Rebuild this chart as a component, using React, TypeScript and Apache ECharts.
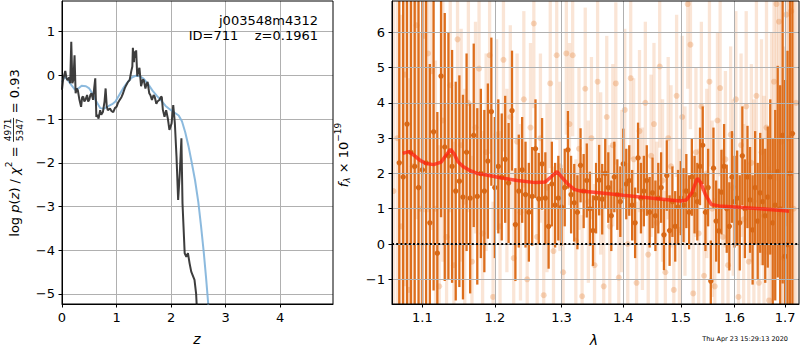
import React, { useEffect, useRef } from 'react';
import * as echarts from 'echarts';

// ---------- Left panel: p(z) ----------
const leftXTicks = [0, 1, 2, 3, 4];
const leftYTicks = [-5, -4, -3, -2, -1, 0, 1];

const blueZ = [0, 0.05, 0.1, 0.17, 0.24, 0.3, 0.36, 0.44, 0.5, 0.56, 0.63, 0.7, 0.77, 0.84, 0.92, 0.98, 1.05, 1.12, 1.2, 1.28, 1.35, 1.43, 1.5, 1.58, 1.66, 1.74, 1.82, 1.9, 1.98, 2.06, 2.14, 2.2, 2.26, 2.32, 2.38, 2.44, 2.5, 2.55, 2.6, 2.64, 2.68, 2.7];
const blueP = [-0.15, -0.03, -0.1, -0.22, -0.33, -0.3, -0.24, -0.25, -0.3, -0.42, -0.6, -0.75, -0.76, -0.71, -0.66, -0.6, -0.45, -0.3, -0.16, -0.05, -0.01, -0.02, -0.08, -0.2, -0.35, -0.47, -0.58, -0.7, -0.78, -0.85, -0.92, -1.05, -1.3, -1.62, -2.0, -2.4, -2.9, -3.45, -4.05, -4.6, -5.2, -5.5];

const blackZ = [0, 0.02, 0.04, 0.06, 0.08, 0.1, 0.13, 0.15, 0.17, 0.19, 0.21, 0.23, 0.25, 0.27, 0.29, 0.32, 0.35, 0.37, 0.39, 0.41, 0.43, 0.46, 0.48, 0.5, 0.52, 0.54, 0.57, 0.59, 0.61, 0.63, 0.65, 0.67, 0.7, 0.72, 0.75, 0.78, 0.8, 0.82, 0.84, 0.88, 0.91, 0.94, 0.97, 1.0, 1.03, 1.06, 1.09, 1.12, 1.15, 1.18, 1.21, 1.24, 1.27, 1.29, 1.3, 1.32, 1.33, 1.35, 1.36, 1.38, 1.4, 1.42, 1.44, 1.45, 1.48, 1.5, 1.53, 1.55, 1.57, 1.6, 1.62, 1.65, 1.68, 1.7, 1.73, 1.75, 1.79, 1.81, 1.83, 1.85, 1.88, 1.91, 1.94, 1.97, 2.01, 2.04, 2.07, 2.1, 2.13, 2.16, 2.19, 2.21, 2.25, 2.28, 2.31, 2.34, 2.37, 2.43, 2.46, 2.48];
const blackP = [-0.33, -0.1, 0.0, 0.1, -0.05, -0.11, -0.05, -0.18, 0.77, -0.18, -0.1, 0.46, -0.41, -0.3, -0.34, -0.56, -0.72, -0.5, -0.49, -0.6, -0.56, -0.45, -0.6, -0.56, -0.45, -0.41, -0.56, -0.3, -0.07, -0.95, -0.9, -0.99, -0.8, -0.9, -0.84, -0.6, -0.3, -0.7, -0.8, -0.76, -0.82, -0.84, -0.75, -0.72, -0.62, -0.56, -0.5, -0.41, -0.3, -0.22, -0.15, -0.11, 0.09, 0.2, 0.63, 0.3, 0.55, 0.4, 0.57, -0.02, 0.1, 0.17, -0.1, -0.25, -0.1, -0.11, -0.3, -0.2, -0.15, -0.41, -0.45, -0.56, -0.45, -0.49, -0.65, -0.6, -0.56, -0.5, -0.49, -0.79, -0.95, -0.8, -0.98, -1.25, -1.1, -0.68, -1.1, -1.86, -2.85, -2.24, -1.44, -2.93, -4.07, -4.15, -4.07, -4.3, -4.49, -4.68, -5.0, -5.5];

// ---------- Right panel: spectrum ----------
const rightXTicks = [1.1, 1.2, 1.3, 1.4, 1.5, 1.6, 1.7];
const rightYTicks = [-1, 0, 1, 2, 3, 4, 5, 6];

const darkLam = [
  1.070, 1.075, 1.080, 1.085, 1.090, 1.095, 1.100,
  1.105, 1.110, 1.115, 1.120, 1.125, 1.130,
  1.135, 1.140, 1.145, 1.150, 1.155, 1.160,
  1.165, 1.170, 1.175, 1.180, 1.185, 1.190, 1.195, 1.200,
  1.205, 1.210, 1.215, 1.220, 1.225, 1.230, 1.235, 1.240, 1.245, 1.250,
  1.255, 1.260, 1.265, 1.270, 1.275, 1.280, 1.285, 1.290, 1.295, 1.300,
  1.305, 1.310, 1.315, 1.320, 1.325, 1.330, 1.335, 1.340, 1.345, 1.350,
  1.355, 1.360, 1.365, 1.370, 1.375, 1.380, 1.385, 1.390, 1.395, 1.400,
  1.405, 1.410, 1.415, 1.420, 1.425, 1.430, 1.435, 1.440, 1.445, 1.450,
  1.455, 1.460, 1.465, 1.470, 1.475, 1.480, 1.485, 1.490, 1.495, 1.500,
  1.505, 1.510, 1.515, 1.520, 1.525, 1.530, 1.535, 1.540, 1.545, 1.550,
  1.555, 1.560, 1.565, 1.570, 1.575, 1.580, 1.585, 1.590, 1.595, 1.600,
  1.605, 1.610, 1.615, 1.620, 1.625, 1.630, 1.635, 1.640, 1.645, 1.650,
  1.655, 1.660, 1.665, 1.670, 1.675, 1.680, 1.685, 1.690, 1.695, 1.700,
  1.705, 1.710, 1.715,
];
const darkFlux = [
  2.3, 1.9, 3.4, 2.6, 2.2, 1.6, 2.1,
  2.3, 0.6, 3.18, -0.26, 4.76, 2.75,
  2.5, 2.2, 1.5, 1.78, 1.33, 2.6,
  1.3, 3.08, 1.35, 2.0, 1.5, 2.35, 3.75, 1.6,
  2.2, 1.9, 2.4, 1.73, 3.78, 0.55, 1.5, 2.1, 1.4, 0.9,
  1.35, 2.7, 1.28, 2.27, 1.3, 0.5, 1.7, 1.1, 1.3, 1.05,
  1.6, 2.67, 1.4, 1.17, 0.9, 2.23, 1.5, 1.8, 1.0, 0.38,
  1.3, 1.81, 1.27, 2.0, 1.6, 0.8, 1.9, 1.4, 1.2, 2.27,
  1.7, 1.8, 1.1, 0.6, 2.44, 1.3, 1.5, 1.8, 0.9, 1.45,
  0.8, 1.3, 1.6, 0.26, 1.94, 0.38, 1.2, 0.5, 1.05, 1.3,
  1.1, 1.5, 0.9, 1.9, 1.4, 1.2, 2.2, 2.8, 0.9, 1.6,
  -1.05, 2.15, 0.65, 0.37, 1.47, 2.2, 1.0, 0.5, 1.9, 1.2,
  1.3, 0.6, 2.5, 1.0, 1.9, 1.25, 0.4, 1.6, 0.65, 1.45,
  1.2, 0.8, 1.33, 1.9, 0.6, 1.1, 2.05, 1.0, 3.08, -0.35,
  -0.02, 2.0, 3.13,
];
const darkErr = [
  6, 6, 6, 6, 5.5, 5.5, 5,
  5, 4.5, 4.5, 4, 4, 3.8,
  3.5, 3.3, 3.1, 3.0, 2.9, 2.8,
  2.7, 2.6, 2.5, 2.4, 2.3, 2.2, 2.1, 2.0,
  1.9, 1.8, 1.8, 1.7, 1.7, 1.6, 1.6, 1.5, 1.5, 1.4,
  1.4, 1.4, 1.3, 1.3, 1.3, 1.2, 1.2, 1.2, 1.2, 1.1,
  1.1, 1.1, 1.1, 1.1, 1.05, 1.05, 1.05, 1.05, 1.05, 1.0,
  1.0, 1.0, 1.0, 1.0, 1.0, 1.0, 1.0, 1.0, 1.0, 1.0,
  1.0, 1.0, 1.0, 1.0, 1.0, 1.0, 1.0, 1.0, 1.0, 1.0,
  1.0, 1.0, 1.0, 1.0, 1.0, 1.0, 1.0, 1.0, 1.05, 1.05,
  1.05, 1.05, 1.05, 1.1, 1.1, 1.1, 1.1, 1.1, 1.1, 1.1,
  1.15, 1.15, 1.15, 1.2, 1.2, 1.2, 1.25, 1.25, 1.3, 1.3,
  1.35, 1.35, 1.4, 1.4, 1.45, 1.5, 1.55, 1.6, 1.65, 1.7,
  1.8, 1.9, 2.0, 2.2, 2.4, 2.7, 3.0, 3.5, 4.2, 5.0,
  5.5, 6, 6,
];

const lightLam = [
  1.0625, 1.0675, 1.0725, 1.0775, 1.0825, 1.0875, 1.0925, 1.0975, 1.1025,
  1.1075, 1.1125, 1.1175, 1.1225, 1.1275, 1.1325, 1.1375, 1.1425, 1.1475, 1.1525,
  1.1575, 1.1625, 1.1675, 1.1725, 1.1775, 1.1825, 1.1875, 1.1925, 1.1975, 1.2025,
  1.2075, 1.2125, 1.2175, 1.2225, 1.2275, 1.2325, 1.2375, 1.2425, 1.2475, 1.2525,
  1.2575, 1.2625, 1.2675, 1.2725, 1.2775, 1.2825, 1.2875, 1.2925, 1.2975, 1.3025,
  1.3075, 1.3125, 1.3175, 1.3225, 1.3275, 1.3325, 1.3375, 1.3425, 1.3475, 1.3525,
  1.3575, 1.3625, 1.3675, 1.3725, 1.3775, 1.3825, 1.3875, 1.3925, 1.3975, 1.4025,
  1.4075, 1.4125, 1.4175, 1.4225, 1.4275, 1.4325, 1.4375, 1.4425, 1.4475, 1.4525,
  1.4575, 1.4625, 1.4675, 1.4725, 1.4775, 1.4825, 1.4875, 1.4925, 1.4975, 1.5025,
  1.5075, 1.5125, 1.5175, 1.5225, 1.5275, 1.5325, 1.5375, 1.5425, 1.5475, 1.5525,
  1.5575, 1.5625, 1.5675, 1.5725, 1.5775, 1.5825, 1.5875, 1.5925, 1.5975, 1.6025,
  1.6075, 1.6125, 1.6175, 1.6225, 1.6275, 1.6325, 1.6375, 1.6425, 1.6475, 1.6525,
  1.6575, 1.6625, 1.6675, 1.6725, 1.6775, 1.6825, 1.6875, 1.6925, 1.6975, 1.7025,
  1.7075, 1.7125, 1.7175, 1.7225,
];
const lightFlux = [
  1.5, 3.0, 0.5, 4.8, -1.3, 2.2, 6.2, 1.0, 5.9,
  5.4, 4.9, 1.0, -1.2, 3.5, 0.2, 4.5, -0.6, 5.8, 2.8,
  1.2, 4.0, -0.5, 3.3, 4.97, 0.3, 2.6, 5.35, -1.5, 3.1,
  0.5, 5.22, 1.8, 3.6, -0.4, 2.9, 0.9, 4.1, -1.0, 3.3,
  6.25, 0.2, 3.0, -1.45, 1.6, 4.55, -0.2, 5.35, 2.2, -0.8,
  5.4, 3.4, 5.35, 0.1, 2.7, -1.48, 4.4, 1.2, 3.0, -0.6,
  4.6, 2.0, -1.2, 3.6, 0.5, 2.8, 4.55, -0.95, 1.5, 3.8,
  0.0, 4.7, 2.4, -1.1, 3.2, 1.0, 4.0, -0.3, 2.5, 3.4,
  0.6, 5.03, 1.8, -0.8, 3.0, 2.2, -1.3, 4.2, 0.4, 3.6,
  1.5, 6.8, 5.65, -1.4, 2.6, 0.3, 3.9, -0.9, 2.0, 4.6,
  1.0, -1.2, 3.5, 4.42, 0.2, 2.4, -0.6, 3.1, 1.6, 4.1,
  -1.5, 2.8, 0.7, 3.9, -0.5, 2.3, 1.2, 4.2, -1.1, 2.6,
  0.8, 3.3, -1.6, 2.0, 4.6, 6.8, 6.3, 2.9, -0.4, 6.5,
  3.0, 6.6, 1.0, 4.0,
];
const lightErr = [
  6, 6, 6, 6, 6, 5.5, 5.5, 5, 5,
  4.5, 4.5, 4.2, 4, 4, 3.8, 3.6, 3.5, 3.4, 3.3,
  3.2, 3.1, 3, 3, 2.9, 2.9, 2.8, 2.8, 2.7, 2.7,
  2.7, 2.6, 2.6, 2.6, 2.5, 2.5, 2.5, 2.5, 2.4, 2.4,
  2.4, 2.4, 2.4, 2.4, 2.4, 2.4, 2.4, 2.4, 2.4, 2.4,
  2.3, 2.3, 2.3, 2.3, 2.3, 2.3, 2.3, 2.3, 2.3, 2.3,
  2.3, 2.3, 2.3, 2.3, 2.3, 2.3, 2.3, 2.3, 2.3, 2.3,
  2.3, 2.3, 2.3, 2.3, 2.3, 2.3, 2.3, 2.3, 2.3, 2.3,
  2.3, 2.3, 2.3, 2.3, 2.3, 2.3, 2.3, 2.3, 2.3, 2.3,
  2.4, 2.4, 2.4, 2.4, 2.4, 2.4, 2.4, 2.4, 2.4, 2.4,
  2.5, 2.5, 2.5, 2.5, 2.5, 2.5, 2.5, 2.5, 2.5, 2.5,
  2.6, 2.6, 2.7, 2.7, 2.8, 2.8, 2.9, 3, 3.1, 3.2,
  3.4, 3.6, 3.8, 4, 4.5, 5, 5.5, 6, 6, 6,
  6, 6, 6, 6,
];

const modelLam = [1.0745, 1.082, 1.09, 1.097, 1.105, 1.115, 1.125, 1.133, 1.138, 1.143, 1.148, 1.155, 1.164, 1.175, 1.19, 1.21, 1.233, 1.26, 1.275, 1.285, 1.293, 1.3, 1.31, 1.32, 1.33, 1.36, 1.4, 1.45, 1.499, 1.51, 1.52, 1.53, 1.536, 1.545, 1.556, 1.57, 1.6, 1.65, 1.7, 1.708];
const modelFlux = [2.57, 2.62, 2.5, 2.37, 2.28, 2.25, 2.32, 2.55, 2.68, 2.55, 2.33, 2.2, 2.09, 2.0, 1.95, 1.87, 1.8, 1.74, 1.76, 1.92, 2.05, 1.9, 1.7, 1.55, 1.5, 1.45, 1.38, 1.3, 1.22, 1.25, 1.45, 1.86, 1.75, 1.4, 1.12, 1.08, 1.05, 1.0, 0.94, 0.93];

// ---------- helpers ----------
const FONT = '"DejaVu Sans", "Liberation Sans", sans-serif';
const fmtMinus = (v: number) => (v < 0 ? '\u2212' + Math.abs(v) : String(v));
const lg = (v: number) => Math.log10(v);

let measureCtx: CanvasRenderingContext2D | null = null;
function measure(t: string, size: number, italic: boolean) {
  if (!measureCtx) measureCtx = document.createElement('canvas').getContext('2d');
  if (!measureCtx) return t.length * size * 0.6;
  measureCtx.font = `${italic ? 'italic ' : ''}${size}px "DejaVu Sans"`;
  return measureCtx.measureText(t).width;
}

type Seg = { t?: string; frac?: [string, string]; size: number; italic?: boolean; dy?: number };

function mathLabel(segs: Seg[], cx: number, cy: number) {
  const widths = segs.map((s) => {
    if (s.frac) return Math.max(measure(s.frac[0], s.size, false), measure(s.frac[1], s.size, false)) + 2;
    return measure(s.t || '', s.size, !!s.italic);
  });
  const total = widths.reduce((a, b) => a + b, 0);
  let cur = -total / 2;
  const children: any[] = [];
  segs.forEach((s, i) => {
    const w = widths[i];
    if (s.frac) {
      children.push({ type: 'text', x: cur + w / 2, y: -6, style: { text: s.frac[0], font: `${s.size}px ${FONT}`, fill: '#000', align: 'center', verticalAlign: 'middle' } });
      children.push({ type: 'text', x: cur + w / 2, y: 6, style: { text: s.frac[1], font: `${s.size}px ${FONT}`, fill: '#000', align: 'center', verticalAlign: 'middle' } });
      children.push({ type: 'line', shape: { x1: cur + 0.5, y1: -0.5, x2: cur + w - 0.5, y2: -0.5 }, style: { stroke: '#000', lineWidth: 0.8 } });
    } else {
      children.push({
        type: 'text', x: cur, y: s.dy || 0,
        style: { text: s.t, font: `${s.italic ? 'italic ' : ''}${s.size}px ${FONT}`, fill: '#000', align: 'left', verticalAlign: 'middle' },
      });
    }
    cur += w;
  });
  return { type: 'group', x: cx, y: cy, rotation: Math.PI / 2, children };
}

function errRender(color: string, dotColor: string, w: number, r: number) {
  return (params: any, api: any) => {
    const x = api.value(0), y = api.value(1), e = api.value(2);
    const top = api.coord([x, y + e]);
    const bot = api.coord([x, y - e]);
    const c = api.coord([x, y]);
    return {
      type: 'group',
      children: [
        { type: 'rect', shape: { x: c[0] - w / 2, y: top[1], width: w, height: bot[1] - top[1] }, style: { fill: color } },
        { type: 'circle', shape: { cx: c[0], cy: c[1], r }, style: { fill: dotColor } },
      ],
    };
  };
}

function buildOption(): any {
  const rxMin = lg(1.0607), rxMax = lg(1.7286);
  const axisCommon = {
    type: 'value',
    axisLine: { show: true, onZero: false, lineStyle: { color: '#000', width: 1 } },
    splitLine: { show: true, lineStyle: { color: '#b0b0b0', width: 1 } },
  };
  const tick = (vals: number[]) => ({ show: true, inside: false, length: 3.5, lineStyle: { color: '#000', width: 1 }, customValues: vals });
  const lab = (vals: number[], fmt: (v: number) => string, margin: number) => ({ customValues: vals, formatter: fmt, color: '#000', fontSize: 13, fontFamily: FONT, margin });

  return {
    animation: false,
    backgroundColor: '#fff',
    grid: [
      { left: 62, top: 1, width: 271, height: 303, show: true, borderColor: '#000', borderWidth: 1, backgroundColor: 'transparent', z: 6 },
      { left: 392, top: 1, width: 407, height: 303, show: true, borderColor: '#000', borderWidth: 1, backgroundColor: 'transparent', z: 6 },
    ],
    xAxis: [
      { ...axisCommon, gridIndex: 0, min: 0, max: 4.97, axisTick: tick(leftXTicks), axisLabel: lab(leftXTicks, (v) => String(v), 7) },
      { ...axisCommon, gridIndex: 1, min: rxMin, max: rxMax, z: 3, axisTick: tick(rightXTicks.map(lg)), axisLabel: lab(rightXTicks.map(lg), (v) => Math.pow(10, v).toFixed(1), 7) },
    ],
    yAxis: [
      { ...axisCommon, gridIndex: 0, min: -5.23, max: 1.7, axisTick: tick(leftYTicks), axisLabel: lab(leftYTicks, fmtMinus, 7) },
      { ...axisCommon, gridIndex: 1, min: -1.7, max: 6.887, z: 3, axisTick: tick(rightYTicks), axisLabel: lab(rightYTicks, fmtMinus, 7) },
    ],
    series: [
      {
        type: 'line', xAxisIndex: 0, yAxisIndex: 0, showSymbol: false, symbol: 'none', z: 2,
        data: blueZ.map((z, i) => [z, blueP[i]]),
        lineStyle: { color: '#7fb3da', width: 2, opacity: 0.9 },
      },
      {
        type: 'line', xAxisIndex: 0, yAxisIndex: 0, showSymbol: false, symbol: 'none', z: 3,
        data: blackZ.map((z, i) => [z, blackP[i]]),
        lineStyle: { color: '#333333', width: 2, opacity: 0.95 },
      },
      {
        type: 'custom', xAxisIndex: 1, yAxisIndex: 1, z: 1, clip: true,
        encode: { x: 0, y: 1 },
        data: lightLam.map((l, i) => [lg(l), lightFlux[i], lightErr[i]]),
        renderItem: errRender('rgba(228,125,50,0.2)', 'rgba(228,125,50,0.3)', 3.3, 3),
      },
      {
        type: 'custom', xAxisIndex: 1, yAxisIndex: 1, z: 2, clip: true,
        encode: { x: 0, y: 1 },
        data: darkLam.map((l, i) => [lg(l), darkFlux[i], darkErr[i]]),
        renderItem: errRender('rgb(221,110,28)', 'rgb(216,104,22)', 2.3, 2.7),
      },
      {
        type: 'line', xAxisIndex: 1, yAxisIndex: 1, showSymbol: false, symbol: 'none', z: 4,
        data: modelLam.map((l, i) => [lg(l), modelFlux[i]]),
        lineStyle: { color: '#ff2010', width: 3.5, opacity: 0.75 },
      },
      {
        type: 'line', xAxisIndex: 1, yAxisIndex: 1, showSymbol: false, symbol: 'none', z: 5,
        data: [[rxMin, 0], [rxMax, 0]],
        lineStyle: { color: '#000', width: 2, type: [2, 2.2] },
      },
    ],
    graphic: [
      { type: 'text', x: 318, y: 20, z: 10, style: { text: 'j003548m4312', font: `13px ${FONT}`, fill: '#000', align: 'right', verticalAlign: 'middle' } },
      { type: 'text', x: 318, y: 35.5, z: 10, style: { text: 'ID=711    z=0.1961', font: `13px ${FONT}`, fill: '#000', align: 'right', verticalAlign: 'middle' } },
      { type: 'text', x: 197, y: 339, style: { text: 'z', font: `italic 14px ${FONT}`, fill: '#000', align: 'center', verticalAlign: 'middle' } },
      { type: 'text', x: 594, y: 340, style: { text: 'λ', font: `italic 14px ${FONT}`, fill: '#000', align: 'center', verticalAlign: 'middle' } },
      { type: 'text', x: 788, y: 339, style: { text: 'Thu Apr 23 15:29:13 2020', font: `6.5px ${FONT}`, fill: '#000', align: 'right', verticalAlign: 'middle' } },
      mathLabel([
        { t: 'log ', size: 13 },
        { t: 'p', size: 13, italic: true },
        { t: '(', size: 13 },
        { t: 'z', size: 13, italic: true },
        { t: ') / ', size: 13 },
        { t: 'χ', size: 13, italic: true },
        { t: '2', size: 9, dy: -5 },
        { t: ' = ', size: 13 },
        { frac: ['4971', '5347'], size: 9 },
        { t: ' = 0.93', size: 13 },
      ], 14, 153),
      mathLabel([
        { t: 'f', size: 13, italic: true },
        { t: 'λ', size: 9, italic: true, dy: 4 },
        { t: ' × 10', size: 13 },
        { t: '\u221219', size: 9, dy: -5 },
      ], 343, 155),
    ],
  };
}

export default function App() {
  const ref = useRef<HTMLDivElement>(null);
  useEffect(() => {
    if (!ref.current) return;
    const chart = echarts.init(ref.current, null, { renderer: 'svg' });
    chart.setOption(buildOption());
    return () => chart.dispose();
  }, []);
  return <div ref={ref} style={{ position: 'absolute', left: 0, top: 0, width: 800, height: 350 }} />;
}
